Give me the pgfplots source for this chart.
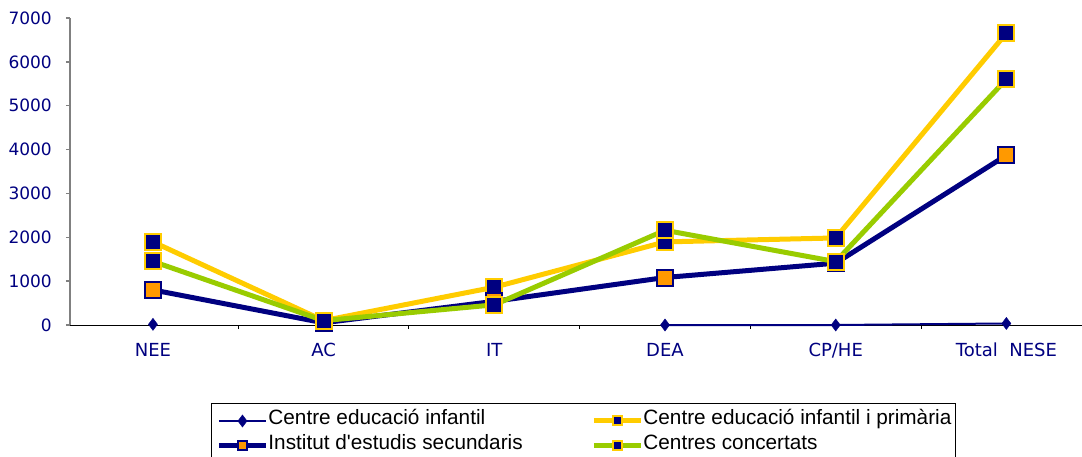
\documentclass[border=0pt]{standalone}
\usepackage{pgfplots}
\pgfplotsset{compat=1.18}
\usepackage{fontspec}
\setmainfont{DejaVu Sans}
\newfontfamily\legendfont{Liberation Sans}

\definecolor{navyc}{HTML}{000080}
\definecolor{goldc}{HTML}{FFCC00}
\definecolor{limec}{HTML}{99CC00}
\definecolor{orangec}{HTML}{FF9900}

% 0=NEE 1=AC 2=IT 3=DEA 4=CP/HE 5=Total NESE
\pgfplotstableread{
cat inf ceip ies conc
0   15  1895 800  1450
1   nan 100  50   100
2   nan 862  540  460
3   0   1895 1083 2160
4   0   1985 1410 1445
5   35  6655 3870 5605
}\datatable

\begin{document}
\begin{tikzpicture}
\begin{axis}[
    at={(70pt,-325pt)}, anchor=south west,
    scale only axis, width=1012pt, height=307pt,
    xmin=-0.486, xmax=5.443, ymin=0, ymax=7000,
    axis lines*=left,
    clip=false,
    unbounded coords=jump,
    x axis line style={black, line width=1pt},
    y axis line style={gray, line width=2pt},
    tick align=outside,
    major tick length=4pt,
    ytick={0,1000,...,7000},
    y tick style={gray, line width=1.5pt},
    yticklabel style={font=\fontsize{17}{17}\selectfont, text=navyc,
        anchor=east, inner sep=0pt, xshift=-14pt},
    xtick={0.5,1.5,2.5,3.5,4.5},
    xticklabels={},
    x tick style={black, line width=1pt},
    extra x ticks={0,1,2,3,4,5},
    extra x tick labels={NEE,AC,IT,DEA,CP/HE,Total\ \ NESE},
    extra x tick style={major tick length=0pt},
    xticklabel style={font=\fontsize{18}{18}\selectfont, text=navyc,
        anchor=north, inner sep=0pt, text height=13pt, yshift=-18pt},
    /pgf/number format/assume math mode=true,
    /pgf/number format/1000 sep={},
    legend columns=2,
    legend cell align=left,
    legend style={at={(0.1393,-0.254)}, anchor=north west,
        draw=black, line width=1pt, inner xsep=4pt, inner ysep=5pt,
        font=\legendfont\fontsize{20.75}{25}\selectfont,
        nodes={inner sep=0pt, text height=16pt, text depth=9pt},
        column sep=0pt, row sep=0pt},
    legend image code/.code={
        \path (-1pt,0pt) (47pt,0pt);
        \draw[mark repeat=2, mark phase=2, #1]
            plot coordinates {(0pt,0pt) (23.5pt,0pt) (47pt,0pt)};
    },
]

\addplot[navyc, line width=2pt, mark=diamond*, mark size=6pt,
    mark options={fill=navyc, draw=navyc, line width=0.5pt}]
    table[x=cat, y=inf] {\datatable};
\addlegendentry{\makebox[322pt][l]{Centre educació infantil}}

\addplot[goldc, line width=5pt, mark=square*, mark size=8pt,
    mark options={fill=navyc, draw=goldc, line width=2pt},
    legend image post style={mark size=4.5pt}]
    table[x=cat, y=ceip] {\datatable};
\addlegendentry{Centre educació infantil i primària}

\addplot[navyc, line width=5pt, mark=square*, mark size=8pt,
    mark options={fill=orangec, draw=navyc, line width=2pt},
    legend image post style={mark size=4.5pt}]
    table[x=cat, y=ies] {\datatable};
\addlegendentry{\makebox[322pt][l]{Institut d'estudis secundaris}}

\addplot[limec, line width=5pt, mark=square*, mark size=8pt,
    mark options={fill=navyc, draw=goldc, line width=2pt},
    legend image post style={mark size=4.5pt}]
    table[x=cat, y=conc] {\datatable};
\addlegendentry{Centres concertats}

\end{axis}
\pgfresetboundingbox
\useasboundingbox (0pt,0pt) rectangle (1082pt,-456pt);
\end{tikzpicture}
\end{document}
